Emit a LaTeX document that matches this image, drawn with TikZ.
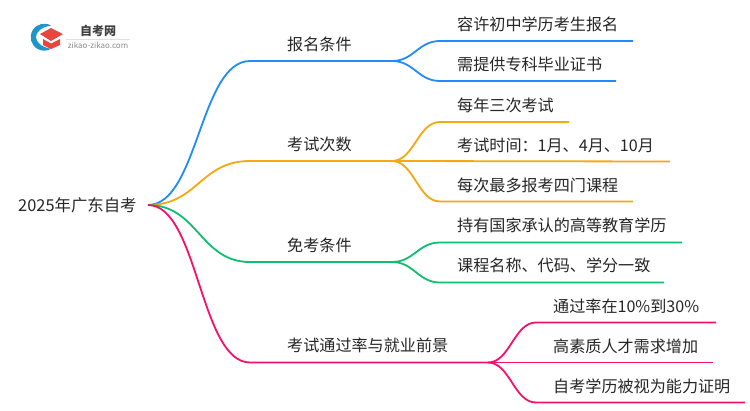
\documentclass[tikz,border=0pt]{standalone}
\usepackage{fontspec}
\usepackage{tikz}
\usepackage{xcolor}
\setmainfont{Noto Sans CJK SC}
\definecolor{bluebranch}{HTML}{1E8CFA}
\definecolor{orangebranch}{HTML}{F5A80F}
\definecolor{greenbranch}{HTML}{0DBF6E}
\definecolor{pinkbranch}{HTML}{F5106E}
\definecolor{logocyan}{HTML}{1E96C8}
\definecolor{logored}{HTML}{E8453C}
\tikzset{
	leaftext/.style={anchor=west,inner sep=0pt,text=black!85,font=\fontsize{16.1}{18}\selectfont},
	branchline/.style={line width=1.8pt},
	curvy/.style={to path={.. controls +(#1,0) and ($(\tikztotarget)+(-#1,0)$) .. (\tikztotarget)}}
}
\usetikzlibrary{calc}
\begin{document}
\begin{tikzpicture}[x=1pt,y=-1pt]
	\useasboundingbox (0,0) rectangle (750,410);
	% logo
	\fill[logocyan] (51,25.5) arc (-60:-300:13.5) .. controls (31,45) and (31,29) .. cycle;
	\fill[logored] (51,28) -- (63,34) -- (51,41) -- (40,34) -- cycle;
	\fill[logored] (43,39) -- (51,43.5) -- (60,39) -- (60,45) -- (51,49) -- (43,45) -- cycle;
	\node[inner sep=0pt,font=\fontsize{12}{13}\selectfont\bfseries,text=black!75] (logotitle) at (98,30.5) {自考网};
	\node[inner sep=0pt,font=\fontsize{8}{9}\selectfont,text=black!45] (logosite) at (98,45) {zikao-zikao.com};
	\draw[black!12,line width=.5pt] (66,39) -- (130,39);
	% root
	\node[leaftext,font=\fontsize{16.4}{18}\selectfont] (root) at (18,205) {2025年广东自考};
	\coordinate (start) at (148,205);
	% first level
	\node[leaftext] (baoming) at (287,44) {报名条件};
	\node[leaftext] (cishu) at (287,144) {考试次数};
	\node[leaftext] (mianshi) at (287,245) {免考条件};
	\node[leaftext] (tongguo) at (287,345) {考试通过率与就业前景};
	% second level
	\node[leaftext] (rongxu) at (457,24) {容许初中学历考生报名};
	\node[leaftext] (xutigong) at (457,64) {需提供专科毕业证书};
	\node[leaftext] (meinian) at (457,105) {每年三次考试};
	\node[leaftext] (shijian) at (457,145) {考试时间：1月、4月、10月};
	\node[leaftext] (meici) at (457,185) {每次最多报考四门课程};
	\node[leaftext] (chiyou) at (457,225) {持有国家承认的高等教育学历};
	\node[leaftext] (kecheng) at (457,265) {课程名称、代码、学分一致};
	\node[leaftext] (tonglv) at (553,306) {通过率在10\%到30\%};
	\node[leaftext] (gaosu) at (553,346) {高素质人才需求增加};
	\node[leaftext] (zikao) at (553,386) {自考学历被视为能力证明};
	% line ends
	\coordinate (a0) at (250,61); \coordinate (a) at (392,61);
	\coordinate (b0) at (250,161); \coordinate (b) at (392,161);
	\coordinate (c0) at (250,262); \coordinate (c) at (392,262);
	\coordinate (d0) at (250,362.5); \coordinate (d) at (488,362.5);
	\coordinate (a1) at (440,41); \coordinate (a1e) at (633,41);
	\coordinate (a2) at (440,81); \coordinate (a2e) at (616,81);
	\coordinate (b1) at (440,122); \coordinate (b1e) at (569,122);
	\coordinate (b2e) at (670,161.5);
	\coordinate (b3) at (440,201.5); \coordinate (b3e) at (633,201.5);
	\coordinate (c1) at (440,242.5); \coordinate (c1e) at (682,242.5);
	\coordinate (c2) at (440,282.5); \coordinate (c2e) at (664,282.5);
	\coordinate (d1) at (536,322.5); \coordinate (d1e) at (716,322.5);
	\coordinate (d2e) at (713,362.5);
	\coordinate (d3) at (536,402.5); \coordinate (d3e) at (745,402.5);
	% blue
	\draw[branchline,bluebranch] (start) to[curvy=50] (a0) -- (a);
	\draw[branchline,bluebranch] (a) to[curvy=22] (a1) -- (a1e);
	\draw[branchline,bluebranch] (a) to[curvy=22] (a2) -- (a2e);
	% orange
	\draw[branchline,orangebranch] (start) to[curvy=50] (b0) -- (b);
	\draw[branchline,orangebranch] (b) to[curvy=22] (b1) -- (b1e);
	\draw[branchline,orangebranch] (b) -- (b2e);
	\draw[branchline,orangebranch] (b) to[curvy=22] (b3) -- (b3e);
	% green
	\draw[branchline,greenbranch] (start) to[curvy=50] (c0) -- (c);
	\draw[branchline,greenbranch] (c) to[curvy=22] (c1) -- (c1e);
	\draw[branchline,greenbranch] (c) to[curvy=22] (c2) -- (c2e);
	% pink
	\draw[branchline,pinkbranch] (start) to[curvy=50] (d0) -- (d);
	\draw[branchline,pinkbranch] (d) to[curvy=22] (d1) -- (d1e);
	\draw[branchline,pinkbranch] (d) -- (d2e);
	\draw[branchline,pinkbranch] (d) to[curvy=22] (d3) -- (d3e);
\end{tikzpicture}
\end{document}
